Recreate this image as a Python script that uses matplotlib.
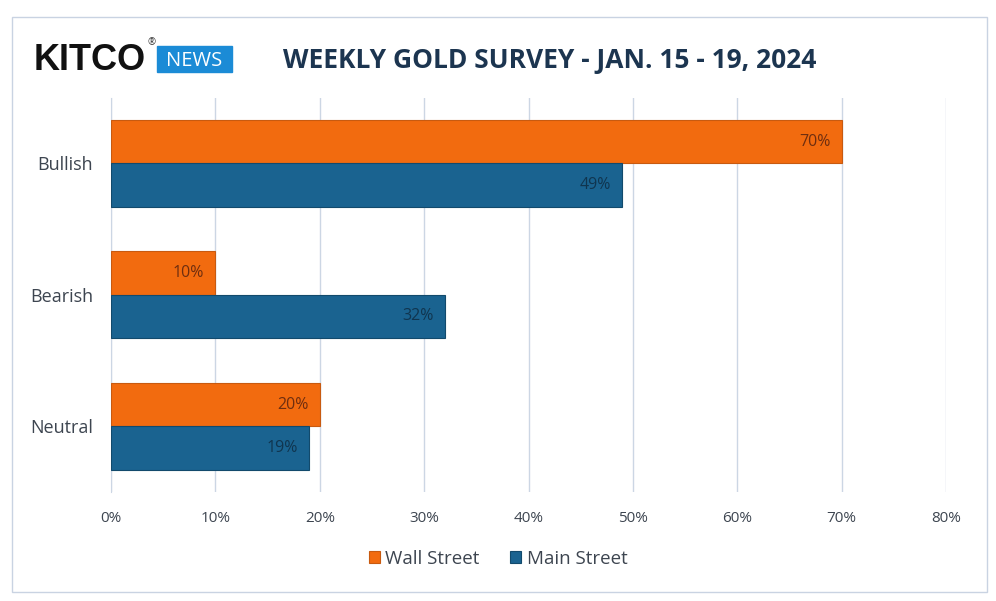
import matplotlib.pyplot as plt
from matplotlib.patches import Rectangle

# Datos de la encuesta
categorias = ['Bullish', 'Bearish', 'Neutral']
wall_street = [70, 10, 20]
main_street = [49, 32, 19]
ticks_x = [0, 10, 20, 30, 40, 50, 60, 70, 80]

naranja = '#f26b0f'
azul = '#1a6390'
gris_texto = '#3d4550'

plt.rcParams['font.family'] = ['Open Sans', 'DejaVu Sans']

fig = plt.figure(figsize=(9.96, 6.01), dpi=100)
ax = fig.add_axes([111 / 996, 1 - 492 / 601, (946 - 111) / 996, (492 - 97.5) / 601])

alto = 0.33
pos = list(range(len(categorias)))
b1 = ax.barh([p - alto / 2 for p in pos], wall_street, height=alto, color=naranja,
             edgecolor='#c85a10', linewidth=0.8, label='Wall Street', zorder=3)
b2 = ax.barh([p + alto / 2 for p in pos], main_street, height=alto, color=azul,
             edgecolor='#124a6c', linewidth=0.8, label='Main Street', zorder=3)

for barra, v in zip(b1, wall_street):
    ax.text(v - 1.1, barra.get_y() + barra.get_height() / 2, f'{v}%', ha='right',
            va='center', fontsize=11.5, color='#6e2e10', zorder=4)
for barra, v in zip(b2, main_street):
    ax.text(v - 1.1, barra.get_y() + barra.get_height() / 2, f'{v}%', ha='right',
            va='center', fontsize=11.5, color='#10354f', zorder=4)

ax.set_xlim(0, 80)
ax.set_ylim(2.5, -0.5)
ax.set_xticks(ticks_x)
ax.set_xticklabels([f'{t}%' for t in ticks_x], fontsize=11, color=gris_texto)
ax.set_yticks(pos)
ax.set_yticklabels(categorias, fontsize=13, color=gris_texto)
ax.tick_params(axis='both', length=0, pad=14)
ax.tick_params(axis='y', pad=13)
ax.xaxis.grid(True, color='#ccd6e4', linewidth=1, zorder=0)
for s in ['top', 'right', 'bottom']:
    ax.spines[s].set_visible(False)
ax.spines['left'].set_color('#ccd6e4')

leg = fig.legend(handles=[b1, b2], loc='center', bbox_to_anchor=(0.5, 1 - 559 / 601),
                 ncol=2, frameon=False, fontsize=13.5, handlelength=0.6, handleheight=0.6,
                 handletextpad=0.3, columnspacing=1.6)
for t in leg.get_texts():
    t.set_color(gris_texto)

# Titulo y logo
fig.text(550 / 996, 1 - 60 / 601, 'WEEKLY GOLD SURVEY - JAN. 15 - 19, 2024', ha='center',
         va='center', fontsize=19, fontweight='bold', color='#1c3550')
fig.text(34 / 996, 1 - 60 / 601, 'KITCO', ha='left', va='center', fontsize=26,
         fontweight='bold', color='#111111', family='Liberation Sans')
fig.text(147 / 996, 1 - 43 / 601, '®', ha='left', va='center', fontsize=7, color='#333333')
fig.patches.append(Rectangle((157 / 996, 1 - 72 / 601), 75 / 996, 26 / 601,
                             transform=fig.transFigure, color='#1b8bd6', zorder=1))
fig.text(194.5 / 996, 1 - 61 / 601, 'NEWS', ha='center', va='center', fontsize=14.5,
         color='white', zorder=2)

# Marco exterior
fig.patches.append(Rectangle((12 / 996, 1 - 592 / 601), 975 / 996, 575 / 601,
                             transform=fig.transFigure, fill=False,
                             edgecolor='#c9d3e2', linewidth=1))

fig.savefig('out.png', dpi=100)
